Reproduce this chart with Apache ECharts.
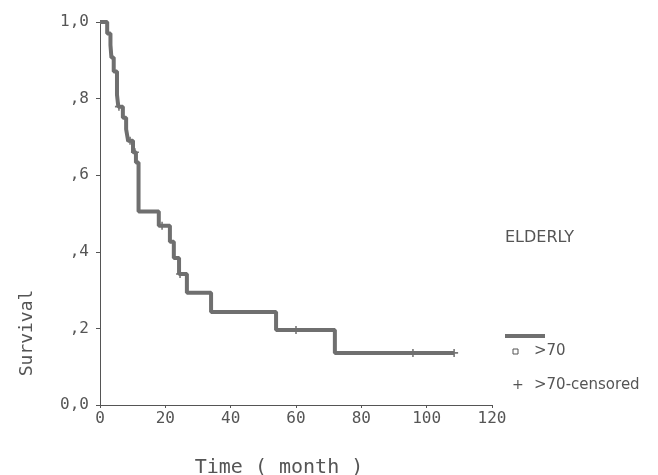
<!DOCTYPE html>
<html>
<head>
<meta charset="utf-8">
<script src="https://cdn.jsdelivr.net/npm/echarts@6/dist/echarts.min.js"></script>
<style>
  html, body { margin: 0; padding: 0; background: #fff; }
  #chart { width: 658px; height: 475px; }
</style>
</head>
<body>
<div id="chart"></div>
<script>
// Kaplan-Meier curve, elderly group (>70)
var eventTimes = [0, 2.2, 3.2, 3.5, 4.2, 5.2, 5.6, 7.0, 8.0, 8.6, 10.1, 11.0, 11.8, 18.0, 21.4, 22.6, 24.2, 26.6, 34.0, 53.9, 71.9, 108.4]
var survival   = [1.0, 0.97, 0.94, 0.907, 0.871, 0.81, 0.779, 0.75, 0.72, 0.69, 0.66, 0.633, 0.505, 0.468, 0.426, 0.384, 0.342, 0.293, 0.243, 0.196, 0.136, 0.136]

var censorTimes = [5.8, 9.2, 10.7, 19.0, 24.5, 60.0, 95.8, 108.4]
var censorSurv  = [0.779, 0.69, 0.66, 0.468, 0.342, 0.196, 0.136, 0.136]

var yTickLabels = { '0': '0,0', '0.2': ',2', '0.4': ',4', '0.6': ',6', '0.8': ',8', '1': '1,0' }

var lineColor = '#6f6f6f'
var textColor = '#555'
var mono = '"DejaVu Sans Mono", monospace'
var sans = '"DejaVu Sans", sans-serif'

var chart = echarts.init(document.getElementById('chart'))

chart.setOption({
  animation: false,
  grid: { left: 100, right: 166, top: 22, bottom: 70, outerBoundsMode: 'none' },
  xAxis: {
    type: 'value',
    min: 0,
    max: 120,
    interval: 20,
    splitLine: { show: false },
    axisLine: { lineStyle: { color: textColor, width: 1 } },
    axisTick: { length: 3, lineStyle: { color: textColor } },
    axisLabel: { color: textColor, fontFamily: mono, fontSize: 16, margin: 6 },
    name: 'Time ( month )',
    nameLocation: 'middle',
    nameGap: 53,
    nameTextStyle: { color: textColor, fontFamily: mono, fontSize: 20, padding: [0, 34, 0, 0] }
  },
  yAxis: {
    type: 'value',
    min: 0,
    max: 1,
    interval: 0.2,
    splitLine: { show: false },
    axisLine: { show: true, lineStyle: { color: textColor, width: 1 } },
    axisTick: { show: true, length: 4, lineStyle: { color: textColor } },
    axisLabel: {
      color: textColor, fontFamily: mono, fontSize: 16, margin: 11,
      formatter: function (v) { return yTickLabels[String(+v.toFixed(1))] }
    }
  },
  series: [{
    name: '>70',
    type: 'line',
    step: 'end',
    data: eventTimes.map(function (t, i) { return [t, survival[i]] }),
    showSymbol: false,
    lineStyle: { color: lineColor, width: 4 }
  }, {
    name: '>70-censored',
    type: 'scatter',
    data: censorTimes.map(function (t, i) { return [t, censorSurv[i]] }),
    symbol: 'path://M4,0H6V4H10V6H6V10H4V6H0V4H4Z',
    symbolSize: 8,
    itemStyle: { color: '#555' }
  }],
  graphic: [
    { type: 'text', x: 27, y: 333, rotation: Math.PI / 2,
      style: { text: 'Survival', fill: textColor, font: '18px ' + mono, align: 'center', verticalAlign: 'middle' } },
    { type: 'text', left: 505, top: 230, style: { text: 'ELDERLY', fill: textColor, font: '16px ' + sans } },
    { type: 'line', shape: { x1: 505, y1: 336, x2: 545, y2: 336 }, style: { stroke: lineColor, lineWidth: 4 } },
    { type: 'rect', shape: { x: 513, y: 349, width: 5, height: 5 }, style: { fill: 'none', stroke: textColor, lineWidth: 1 } },
    { type: 'text', left: 534, top: 344, style: { text: '>70', fill: textColor, font: '15px ' + sans } },
    { type: 'text', left: 512, top: 378, style: { text: '+', fill: textColor, font: '14px ' + sans } },
    { type: 'text', left: 534, top: 378, style: { text: '>70-censored', fill: textColor, font: '15px ' + sans } }
  ]
})
</script>
</body>
</html>
